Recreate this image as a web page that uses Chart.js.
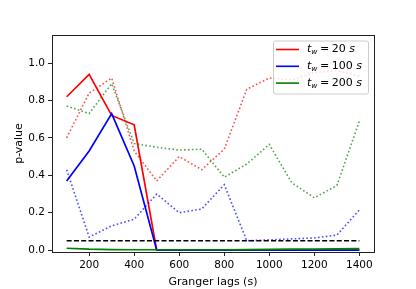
<!DOCTYPE html>
<html>
<head>
<meta charset="utf-8">
<script src="https://cdn.jsdelivr.net/npm/chart.js@4"></script>
<style>
    body { margin: 0; background: #fff; }
</style>
</head>
<body>
<canvas id="grangerChart" width="416" height="289"></canvas>
<script>
// granger lags in seconds
var lags = [100, 200, 300, 400, 500, 600, 700, 800, 900, 1000, 1100, 1200, 1300, 1400];

// solid lines
var p20 = [0.82, 0.94, 0.72, 0.67, 0.0, 0, 0, 0, 0, 0, 0, 0, 0, 0];
var p100 = [0.37, 0.53, 0.73, 0.45, 0.0, 0, 0, 0, 0, 0, 0, 0, 0, 0];
var p200 = [0.01, 0.005, 0.003, 0.002, 0.002, 0.002, 0.002, 0.002, 0.003, 0.004, 0.005, 0.006, 0.007, 0.008];

// dotted lines
var p20dot = [0.60, 0.84, 0.92, 0.53, 0.37, 0.50, 0.43, 0.54, 0.86, 0.92, 0.91, 0.95, 0.96, 0.93];
var p100dot = [0.43, 0.07, 0.13, 0.165, 0.30, 0.20, 0.22, 0.35, 0.05, 0.055, 0.06, 0.065, 0.08, 0.215];
var p200dot = [0.77, 0.73, 0.89, 0.57, 0.55, 0.535, 0.54, 0.39, 0.46, 0.565, 0.36, 0.28, 0.345, 0.69];

// significance level
var alpha = 0.05;

var xTicks = [200, 400, 600, 800, 1000, 1200, 1400];
var yTicks = [0, 0.2, 0.4, 0.6, 0.8, 1.0];
var legendNames = ['20', '100', '200'];
var legendColors = ['#ff0000', '#0000ff', '#008000'];

function pts(arr) {
    return lags.map(function (x, i) { return { x: x, y: arr[i] }; });
}

function line(arr, color, dash, width, order) {
    return {
        data: pts(arr),
        borderColor: color,
        borderWidth: width,
        borderDash: dash,
        pointRadius: 0,
        tension: 0,
        fill: false,
        order: order
    };
}

var boxPlugin = {
    id: 'boxPlugin',
    afterDatasetsDraw: function (chart) {
        var ctx = chart.ctx;
        var a = chart.chartArea;
        ctx.save();
        ctx.strokeStyle = '#222';
        ctx.lineWidth = 1;
        ctx.strokeRect(Math.round(a.left) + 0.5, Math.round(a.top) + 0.5,
            Math.round(a.right - a.left), Math.round(a.bottom - a.top));

        // legend box
        var bx = a.right - 101, by = a.top + 5.5, bw = 95, bh = 53;
        ctx.fillStyle = 'rgba(255,255,255,0.8)';
        ctx.strokeStyle = '#cccccc';
        ctx.beginPath();
        ctx.roundRect(bx + 0.5, by + 0.5, bw, bh, 2);
        ctx.fill();
        ctx.stroke();

        for (var i = 0; i < legendNames.length; i++) {
            var y = by + 9 + i * 16.8;
            ctx.strokeStyle = legendColors[i];
            ctx.lineWidth = 1.6;
            ctx.beginPath();
            ctx.moveTo(bx + 3, y);
            ctx.lineTo(bx + 26, y);
            ctx.stroke();

            ctx.fillStyle = '#000';
            ctx.textBaseline = 'middle';
            ctx.textAlign = 'left';
            var tx = bx + 34;
            ctx.font = 'italic 11px "DejaVu Sans"';
            ctx.fillText('t', tx, y);
            tx += ctx.measureText('t').width;
            ctx.font = 'italic 7.5px "DejaVu Sans"';
            ctx.fillText('w', tx, y + 3);
            tx += ctx.measureText('w').width + 2.5;
            ctx.font = '11px "DejaVu Sans"';
            ctx.fillText('=', tx, y);
            tx += ctx.measureText('=').width + 2.5;
            ctx.fillText(legendNames[i], tx, y);
            tx += ctx.measureText(legendNames[i] + ' ').width;
            ctx.font = 'italic 11px "DejaVu Sans"';
            ctx.fillText('s', tx, y);
        }
        ctx.restore();
    }
};

Chart.defaults.font.family = '"DejaVu Sans"';
Chart.defaults.font.size = 10.5;
Chart.defaults.color = '#000';

new Chart("grangerChart", {
    type: "line",
    data: {
        datasets: [
            line(p20, '#ff0000', [], 1.7, 7),
            line(p20dot, 'rgba(255,0,0,0.7)', [1.6, 2.3], 1.6, 6),
            line(p100, '#0000ff', [], 1.7, 5),
            line(p100dot, 'rgba(0,0,255,0.7)', [1.6, 2.3], 1.6, 4),
            line(p200, '#008000', [], 1.7, 3),
            line(p200dot, 'rgba(0,128,0,0.7)', [1.6, 2.3], 1.6, 2),
            line(lags.map(function () { return alpha; }), '#000000', [5, 2.3], 1.5, 1)
        ]
    },
    options: {
        responsive: false,
        animation: false,
        devicePixelRatio: 1,
        layout: {
            padding: { left: 0, right: 42, top: 35, bottom: 0 }
        },
        plugins: {
            legend: { display: false },
            tooltip: { enabled: false }
        },
        scales: {
            x: {
                type: 'linear',
                min: 35,
                max: 1465,
                afterBuildTicks: function (scale) {
                    scale.ticks = xTicks.map(function (v) { return { value: v }; });
                },
                afterFit: function (scale) { scale.height = 37; },
                grid: { drawOnChartArea: false, drawTicks: true, tickLength: 4, color: '#222' },
                border: { display: false },
                ticks: {
                    padding: 3,
                    maxRotation: 0,
                    autoSkip: false,
                    callback: function (v) { return String(v); }
                },
                title: {
                    display: true,
                    text: 'Granger lags (s)',
                    padding: { top: 6, bottom: 0 },
                    font: { size: 11 }
                }
            },
            y: {
                min: -0.01,
                max: 1.15,
                afterBuildTicks: function (scale) {
                    scale.ticks = yTicks.map(function (v) { return { value: v }; });
                },
                afterFit: function (scale) { scale.width = 52; },
                grid: { drawOnChartArea: false, drawTicks: true, tickLength: 4, color: '#222' },
                border: { display: false },
                ticks: {
                    padding: 3,
                    autoSkip: false,
                    callback: function (v) { return v.toFixed(1); }
                },
                title: {
                    display: true,
                    text: 'p-value',
                    padding: { top: 13, bottom: 0 },
                    font: { size: 11 }
                }
            }
        }
    },
    plugins: [boxPlugin]
});
</script>
</body>
</html>
